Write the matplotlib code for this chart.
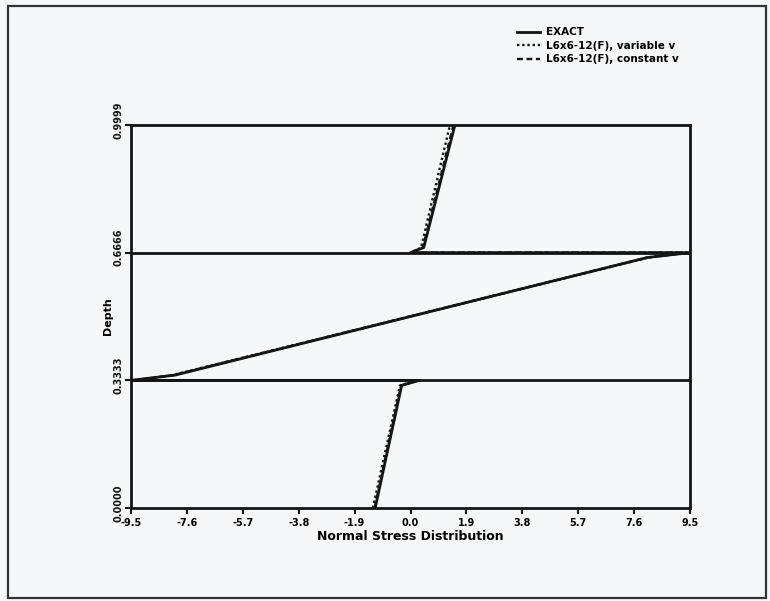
#!/usr/bin/env python3
import matplotlib
matplotlib.use('Agg')
import matplotlib.pyplot as plt
from matplotlib.patches import Rectangle
from matplotlib.transforms import ScaledTranslation

# Through-thickness normal stress, three-ply laminate
exact_depth = [0.0, 0.320, 0.3333, 0.3333, 0.347, 0.654, 0.6667, 0.6667, 0.680, 1.0]
exact_stress = [-1.20, -0.30, 0.30, -9.5, -8.0, 8.05, 9.5, 0.0, 0.45, 1.51]

variable_depth = [0.0, 0.320, 0.3333, 0.3333, 0.347, 0.654, 0.6667, 0.6667, 0.680, 1.0]
variable_stress = [-1.28, -0.36, 0.22, -9.3, -8.1, 8.1, 9.3, 0.0, 0.36, 1.34]

constant_depth = [0.0, 0.320, 0.3333, 0.3333, 0.347, 0.654, 0.6667, 0.6667, 0.680, 1.0]
constant_stress = [-1.22, -0.32, 0.27, -9.4, -8.05, 8.05, 9.4, 0.0, 0.42, 1.46]

x_ticks = [-9.5, -7.6, -5.7, -3.8, -1.9, 0.0, 1.9, 3.8, 5.7, 7.6, 9.5]
x_tick_labels = ['-9.5', '-7.6', '-5.7', '-3.8', '-1.9', '0.0', '1.9', '3.8', '5.7', '7.6', '9.5']
y_ticks = [0.0, 1 / 3, 2 / 3, 1.0]
y_tick_labels = ['0.0000', '0.3333', '0.6666', '0.9999']
interfaces = [1 / 3, 2 / 3]

ink = '#151515'
paper = '#f5f7f8'

plt.rcParams['font.family'] = ['DejaVu Sans']
plt.rcParams['font.weight'] = 'bold'

fig = plt.figure(figsize=(7.7, 6.01), dpi=100, facecolor=paper)
ax = fig.add_axes([131 / 770, 1 - 508 / 601, 559 / 770, 383 / 601])
ax.set_facecolor(paper)

for y in interfaces:
    ax.axhline(y, color=ink, lw=2.0, zorder=1)

ax.plot(exact_stress, exact_depth, color=ink, lw=2.0, label='EXACT', zorder=3)
ax.plot(variable_stress, variable_depth, color=ink, lw=1.7, ls=(0, (1, 1.2)),
        label='L6x6-12(F), variable v', zorder=4)
ax.plot(constant_stress, constant_depth, color=ink, lw=1.7, ls=(0, (2.5, 1.5)),
        label='L6x6-12(F), constant v', zorder=2)

ax.set_xlim(-9.5, 9.5)
ax.set_ylim(0, 1)
ax.set_xticks(x_ticks)
ax.set_xticklabels(x_tick_labels, fontsize=7, fontweight='bold')
ax.set_yticks(y_ticks)
ax.set_yticklabels([])
ax.tick_params(direction='out', length=4, width=1.5, color=ink, pad=3)

# rotated depth labels, sitting slightly above their ticks
lbl_tf = ax.get_yaxis_transform() + ScaledTranslation(-13 / 100, 5 / 100, fig.dpi_scale_trans)
for y, txt in zip(y_ticks, y_tick_labels):
    ax.text(0, y, txt, transform=lbl_tf, rotation=90, ha='center', va='center',
            fontsize=7, fontweight='bold', color=ink)

for side in ax.spines.values():
    side.set_linewidth(2.0)
    side.set_color(ink)

ax.set_xlabel('Normal Stress Distribution', fontsize=9, fontweight='bold', labelpad=2)
ax.set_ylabel('Depth', fontsize=8, fontweight='bold', labelpad=6)

fig.legend(loc='upper left', bbox_to_anchor=(512 / 770, 1 - 22 / 601),
           frameon=False, fontsize=7.5, handlelength=2.2, handletextpad=0.6,
           labelspacing=0.35, borderpad=0)

# page frame
fig.patches.append(Rectangle((8 / 770, 3 / 601), 758 / 770, 592 / 601,
                             transform=fig.transFigure, fill=False,
                             edgecolor='#333333', lw=1.6))

fig.savefig('out.png', dpi=100, facecolor=paper)
